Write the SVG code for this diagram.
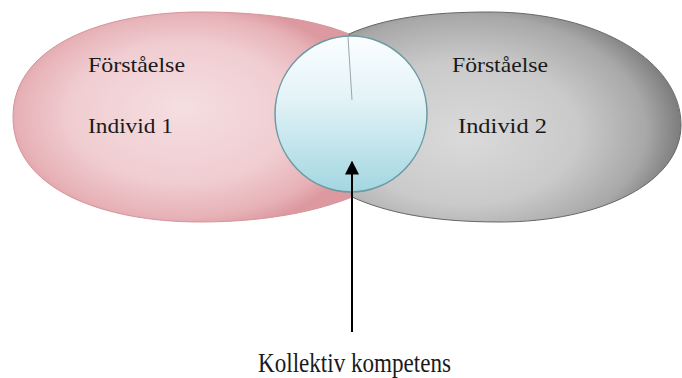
<svg xmlns="http://www.w3.org/2000/svg" width="682" height="378" viewBox="0 0 682 378">
<defs>
<radialGradient id="gPink" cx="0.5" cy="0.5" r="0.55" fx="0.5" fy="0.45">
<stop offset="0" stop-color="#f5dee1"/>
<stop offset="0.6" stop-color="#f0cdd1"/>
<stop offset="0.88" stop-color="#e7b2b7"/>
<stop offset="1" stop-color="#dc9aa0"/>
</radialGradient>
<radialGradient id="gGray" cx="0.35" cy="0.55" r="0.68" fx="0.35" fy="0.6">
<stop offset="0" stop-color="#dadada"/>
<stop offset="0.5" stop-color="#cacaca"/>
<stop offset="0.8" stop-color="#a8a8a8"/>
<stop offset="1" stop-color="#707070"/>
</radialGradient>
<linearGradient id="gBlue" x1="0" y1="0" x2="0" y2="1">
<stop offset="0" stop-color="#fbfeff"/>
<stop offset="0.4" stop-color="#e3f3f7"/>
<stop offset="1" stop-color="#a3d6e1"/>
</linearGradient>
<marker id="ah" viewBox="0 0 10 10" refX="9" refY="5" markerWidth="7" markerHeight="7" orient="auto" markerUnits="strokeWidth">
<path d="M0,0 L10,5 L0,10 z" fill="#000"/>
</marker>
<style>
.lbl{font-family:"Liberation Serif","Times New Roman",serif;fill:#1a1a1a;}
</style>
</defs>
<rect width="682" height="378" fill="#fff"/>
<g id="individ1">
<path d="M13,117 C13,45 105,12 200,12 C265,12 315,20 349,34 L351,40 L351,190 L352,197 C320,210 270,222 200,222 C105,222 13,190 13,117 Z" fill="url(#gPink)" stroke="#d3959a" stroke-width="1"/>
<text class="lbl" x="88" y="72" font-size="22" textLength="97" lengthAdjust="spacingAndGlyphs">Förståelse</text>
<text class="lbl" x="88" y="133" font-size="22" textLength="85" lengthAdjust="spacingAndGlyphs">Individ 1</text>
</g>
<g id="individ2">
<path d="M349,34 C385,18 430,12 490,12 C600,12 681,62 681,125 C681,183 600,222 500,222 C430,222 385,212 352,197 L351,190 L351,40 Z" fill="url(#gGray)" stroke="#666" stroke-width="1"/>
<text class="lbl" x="452" y="72" font-size="22" textLength="96" lengthAdjust="spacingAndGlyphs">Förståelse</text>
<text class="lbl" x="458" y="133" font-size="22" textLength="89" lengthAdjust="spacingAndGlyphs">Individ 2</text>
</g>
<g id="kollektiv">
<ellipse cx="351" cy="114" rx="76" ry="78" fill="url(#gBlue)" stroke="#6d9aa3" stroke-width="1.5"/>
<line x1="348" y1="37" x2="352" y2="100" stroke="#9aa6aa" stroke-width="1"/>
</g>
<g id="connectors">
<line x1="352" y1="332" x2="352" y2="162" stroke="#000" stroke-width="2" marker-end="url(#ah)"/>
</g>
<g id="label">
<text class="lbl" x="258" y="372" font-size="27" textLength="193" lengthAdjust="spacingAndGlyphs">Kollektiv kompetens</text>
</g>
</svg>
